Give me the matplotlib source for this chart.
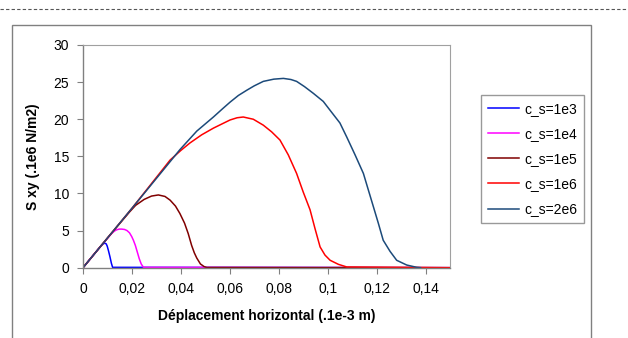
import matplotlib
matplotlib.use('Agg')
import matplotlib.pyplot as plt
from matplotlib.lines import Line2D
from matplotlib.patches import Rectangle

plt.rcParams['font.family'] = ['Liberation Sans', 'DejaVu Sans']

# series (x in .1e-3 m, y in .1e6 N/m2)
x_1e3 = [0, 0.004, 0.0075, 0.0084, 0.009, 0.0095, 0.0099, 0.0104, 0.011, 0.0116, 0.0121, 0.15]
y_1e3 = [0, 1.6, 3.0, 3.25, 3.3, 3.2, 2.9, 2.3, 1.5, 0.6, 0.05, 0.0]

x_1e4 = [0, 0.006, 0.0117, 0.0127, 0.0137, 0.0148, 0.0158, 0.0170, 0.018, 0.019, 0.0199,
         0.0206, 0.0214, 0.0222, 0.023, 0.0238, 0.0247, 0.15]
y_1e4 = [0, 2.4, 4.6, 4.9, 5.1, 5.2, 5.2, 5.15, 5.0, 4.7, 4.2, 3.7, 3.0, 2.1, 1.2, 0.5, 0.05, 0.0]

x_1e5 = [0, 0.01, 0.019, 0.0215, 0.025, 0.028, 0.0308, 0.0335, 0.0356, 0.0378, 0.0396, 0.0415,
         0.043, 0.0444, 0.0455, 0.0465, 0.048, 0.0495, 0.0506, 0.15]
y_1e5 = [0, 4.0, 7.5, 8.4, 9.2, 9.65, 9.8, 9.6, 9.1, 8.3, 7.3, 6.0, 4.6, 3.0, 2.0, 1.3, 0.5, 0.15,
         0.03, 0.0]

x_1e6 = [0, 0.02, 0.0356, 0.040, 0.0437, 0.0485, 0.0533, 0.0570, 0.0601, 0.0630, 0.0655, 0.0696,
         0.0737, 0.0771, 0.0805, 0.0839, 0.0873, 0.090, 0.0928, 0.0948, 0.0969, 0.0989, 0.101,
         0.1044, 0.1078, 0.15]
y_1e6 = [0, 8.0, 14.5, 15.8, 16.8, 17.9, 18.8, 19.4, 19.9, 20.2, 20.3, 20.0, 19.2, 18.3, 17.2,
         15.2, 12.7, 10.2, 7.8, 5.3, 2.8, 1.7, 1.0, 0.45, 0.1, 0.0]

x_2e6 = [0, 0.02, 0.0396, 0.0465, 0.0533, 0.057, 0.0601, 0.0635, 0.0669, 0.070, 0.0737, 0.078,
         0.0819, 0.0850, 0.0873, 0.0905, 0.0941, 0.0982, 0.101, 0.105, 0.1078, 0.1112, 0.1146,
         0.1166, 0.1187, 0.1207, 0.1227, 0.1255, 0.1282, 0.1323, 0.1364, 0.138]
y_2e6 = [0, 8.0, 15.9, 18.4, 20.3, 21.4, 22.3, 23.2, 23.9, 24.5, 25.1, 25.4, 25.5, 25.35, 25.1,
         24.4, 23.5, 22.4, 21.2, 19.5, 17.6, 15.2, 12.7, 10.5, 8.2, 6.0, 3.7, 2.2, 1.0, 0.36,
         0.05, 0.0]

labels = ['c_s=1e3', 'c_s=1e4', 'c_s=1e5', 'c_s=1e6', 'c_s=2e6']
colors = ['#0000ff', '#ff00ff', '#800000', '#ff0000', '#1c4a7a']
xs = [x_1e3, x_1e4, x_1e5, x_1e6, x_2e6]
ys = [y_1e3, y_1e4, y_1e5, y_1e6, y_2e6]

xticks = [0, 0.02, 0.04, 0.06, 0.08, 0.1, 0.12, 0.14]
xticklabels = ['0', '0,02', '0,04', '0,06', '0,08', '0,1', '0,12', '0,14']
yticks = [0, 5, 10, 15, 20, 25, 30]

fig = plt.figure(figsize=(6.28, 3.38), dpi=100)

# outer chart frame and the dashed rule above it
fig.patches.append(Rectangle((12 / 628, -0.05), (591 - 12) / 628, 1.05 - 25 / 338,
                             transform=fig.transFigure, fill=False,
                             edgecolor='#808080', linewidth=1.0))
fig.lines.append(Line2D([0, 1], [1 - 9 / 338, 1 - 9 / 338], transform=fig.transFigure,
                        color='#555555', linewidth=0.8, linestyle=(0, (3, 2))))

ax = fig.add_axes([83 / 628, 1 - 267.7 / 338, (450 - 83) / 628, (267.7 - 45) / 338])

for x, y, lab, c in zip(xs, ys, labels, colors):
    ax.plot(x, y, color=c, linewidth=1.1, label=lab)

ax.set_xlim(0, 0.15)
ax.set_ylim(0, 30)
ax.set_xticks(xticks)
ax.set_xticklabels(xticklabels)
ax.set_yticks(yticks)
ax.tick_params(labelsize=10, length=4, width=0.8, color='#808080', pad=6)

for s in ['left', 'bottom']:
    ax.spines[s].set_color('#808080')
    ax.spines[s].set_linewidth(1.0)
for s in ['top', 'right']:
    ax.spines[s].set_color('#a0a0a0')
    ax.spines[s].set_linewidth(0.8)

ax.set_xlabel('Déplacement horizontal (.1e-3 m)', fontsize=10, fontweight='bold', labelpad=10)
ax.set_ylabel('S xy (.1e6 N/m2)', fontsize=10, fontweight='bold', labelpad=10)

leg = ax.legend(loc='upper left', bbox_to_anchor=(481 / 628, 1 - 95 / 338),
                bbox_transform=fig.transFigure, fontsize=10, frameon=True, fancybox=False,
                edgecolor='#808080', handlelength=2.2, handletextpad=0.4,
                labelspacing=0.8, borderpad=0.5, borderaxespad=0)
leg.get_frame().set_linewidth(1.0)

fig.savefig('out.png', dpi=100)
